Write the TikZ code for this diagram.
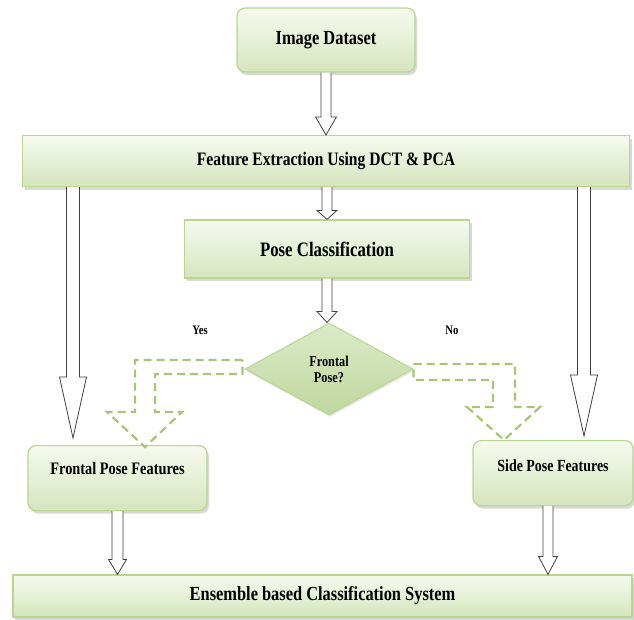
\documentclass[tikz,border=0pt]{standalone}
\usepackage{fontspec}
\setmainfont{Liberation Serif}[FakeStretch=0.82]
\usepackage{tikz}
\usetikzlibrary{shapes,shadows,calc,positioning}
\definecolor{pgedge}{RGB}{186,212,146}
\definecolor{pgtop}{RGB}{246,250,239}
\definecolor{pgbot}{RGB}{213,229,189}
\definecolor{pdtop}{RGB}{220,234,200}
\definecolor{pdbot}{RGB}{192,215,158}
\definecolor{pdash}{RGB}{166,197,118}
\tikzstyle{stage} = [rectangle, draw=pgedge, line width=1.2pt, top color=pgtop, bottom color=pgbot, drop shadow={shadow xshift=2pt, shadow yshift=-3pt, fill=black!30}, inner sep=0pt, text=black]
\tikzstyle{roundstage} = [stage, rounded corners=8pt]
\tikzstyle{decision} = [diamond, draw=pgedge, line width=1pt, top color=pdtop, bottom color=pdbot, drop shadow={shadow xshift=1pt, shadow yshift=-2pt, fill=black!20}, inner sep=0pt, align=center]
\tikzstyle{answer} = [font=\bfseries\fontsize{13}{15}\selectfont]
\tikzstyle{hollow} = [draw=black!75, line width=0.8pt, fill=white, line join=miter]
\tikzstyle{dasharrow} = [draw=pdash, line width=2.2pt, dash pattern=on 8pt off 5pt, fill=none]

% hollow block arrow straight down: from, to, half shaft, half head, head length
\newcommand{\hollowdown}[5]{%
  \draw[hollow] let \p1=(#1), \p2=(#2) in
    (\x1-#3,\y1) -- (\x1-#3,\y2+#5) -- (\x1-#4,\y2+#5) -- (\x1,\y2)
    -- (\x1+#4,\y2+#5) -- (\x1+#3,\y2+#5) -- (\x1+#3,\y1);
}

\begin{document}
\begin{tikzpicture}[x=1pt, y=-1pt]
\useasboundingbox (0,0) rectangle (634,619);
% Steps
\node (data) [roundstage, minimum width=178pt, minimum height=64pt, font=\bfseries\fontsize{20}{24}\selectfont] at (326,40) {Image Dataset};
\node (feat) [stage, minimum width=607pt, minimum height=51pt, font=\bfseries\fontsize{19}{23}\selectfont] at (326,161) {Feature Extraction Using DCT \& PCA};
\node (pose) [stage, minimum width=285pt, minimum height=58pt, font=\bfseries\fontsize{20.5}{24}\selectfont] at (327,249) {Pose Classification};
\node (dec) [decision, minimum width=168pt, minimum height=92pt, font=\bfseries\fontsize{15}{16}\selectfont] at (329,369) {Frontal\\Pose?};
\node (yes) [answer] at (200,330) {Yes};
\node (no) [answer] at (452,330) {No};
\node (front) [roundstage, anchor=north, minimum width=179pt, text height=29pt, text depth=36pt, font=\bfseries\fontsize{17.5}{21}\selectfont] at (117.5,445) {Frontal Pose Features};
\node (side) [roundstage, anchor=north, minimum width=160pt, text height=31pt, text depth=34pt, font=\bfseries\fontsize{17}{20}\selectfont] at (553,440) {Side Pose Features};
\node (ens) [stage, minimum width=619pt, minimum height=42pt, font=\bfseries\fontsize{20}{24}\selectfont] at (322.5,596) {Ensemble based Classification System};

\coordinate (lbig) at (73,438);
\coordinate (rbig) at (584,436);
\coordinate (yestip) at (145,447);
\coordinate (notip) at (504,440);

% Arrows
\hollowdown{data.south}{feat.north}{5pt}{10.5pt}{18pt}
\hollowdown{pose.north |- feat.south}{pose.north}{5pt}{10pt}{9pt}
\hollowdown{pose.south}{dec.north}{5pt}{10pt}{11pt}
\hollowdown{lbig |- feat.south}{lbig}{6.5pt}{13.5pt}{61pt}
\hollowdown{rbig |- feat.south}{rbig}{6.5pt}{13.5pt}{61pt}
\hollowdown{front.south}{ens.north}{5.5pt}{9pt}{15pt}
\hollowdown{[xshift=-5pt]side.south}{ens.north}{5pt}{9.5pt}{18pt}

% Yes / No branches
\draw[dasharrow] let \p1=(dec.west), \p2=(yestip) in
  (\x1-2pt,\y1+9pt) -- (\x2-10pt,\y1+9pt) -- (\x2-10pt,\y2+35pt) -- (\x2-38pt,\y2+35pt)
  -- (\x2,\y2) -- (\x2+37pt,\y2+35pt) -- (\x2+10pt,\y2+35pt) -- (\x2+10pt,\y1-5pt)
  -- (\x1-2pt,\y1-5pt) -- cycle;
\draw[dasharrow] let \p1=(dec.east), \p2=(notip) in
  (\x1,\y1+5pt) -- (\x2+11pt,\y1+5pt) -- (\x2+11pt,\y2+33pt) -- (\x2+36pt,\y2+33pt)
  -- (\x2,\y2) -- (\x2-37pt,\y2+33pt) -- (\x2-11pt,\y2+33pt) -- (\x2-11pt,\y1-11pt)
  -- (\x1,\y1-11pt) -- cycle;
\end{tikzpicture}
\end{document}
